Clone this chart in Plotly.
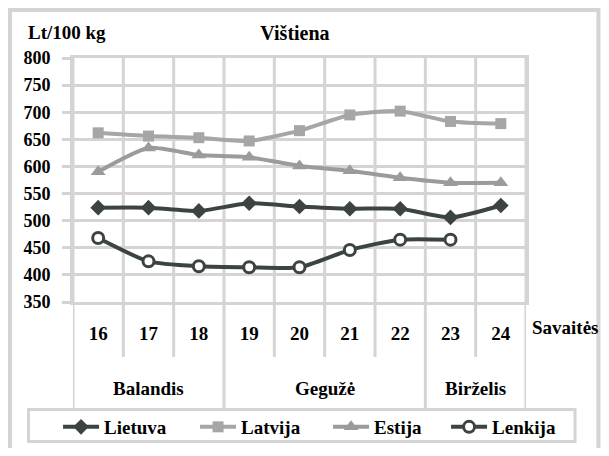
import plotly.graph_objects as go

# Weekly chicken meat prices, Lt/100 kg
weeks = ['16', '17', '18', '19', '20', '21', '22', '23', '24']
months = ['Balandis', 'Gegužė', 'Birželis']
month_weeks = [3, 4, 2]  # how many weeks fall in each month

lietuva = [524, 524, 518, 532, 526, 522, 522, 506, 528]
latvija = [662, 656, 653, 647, 666, 695, 702, 683, 679]
estija = [590, 634, 621, 617, 601, 592, 579, 570, 570]
lenkija = [468, 425, 416, 414, 414, 446, 465, 465, None]

x = list(range(len(weeks)))

grid = '#d4d4d4'
dark = '#3c4443'
serif = 'Liberation Serif'
font_main = dict(family=serif, size=19, color='black', weight='bold')

fig = go.Figure()

fig.add_trace(go.Scatter(
    x=x, y=lietuva, name='Lietuva', mode='lines+markers', legendwidth=86,
    line=dict(color=dark, width=4, shape='spline', smoothing=0.6),
    marker=dict(symbol='diamond', size=12, color=dark)
))
fig.add_trace(go.Scatter(
    x=x, y=latvija, name='Latvija', mode='lines+markers', legendwidth=82,
    line=dict(color='#a6a6a6', width=4, shape='spline', smoothing=0.6),
    marker=dict(symbol='square', size=11, color='#a6a6a6')
))
fig.add_trace(go.Scatter(
    x=x, y=estija, name='Estija', mode='lines+markers', legendwidth=67,
    line=dict(color='#9b9b9b', width=4, shape='spline', smoothing=0.6),
    marker=dict(symbol='triangle-up', size=13, color='#9b9b9b')
))
fig.add_trace(go.Scatter(
    x=x, y=lenkija, name='Lenkija', mode='lines+markers', legendwidth=70,
    line=dict(color=dark, width=4, shape='spline', smoothing=0.6),
    marker=dict(symbol='circle', size=11, color='white', line=dict(color=dark, width=3))
))

# category separators, short between weeks, long at month borders
shapes = []
borders = [0]
for n in month_weeks:
    borders.append(borders[-1] + n)
for k in range(len(weeks) + 1):
    y_end = -0.434 if k in borders else -0.225
    shapes.append(dict(type='line', xref='x', yref='paper', x0=k - 0.5, x1=k - 0.5,
                       y0=1, y1=y_end, line=dict(color=grid, width=3), layer='below'))

# outer frame and legend box
shapes.append(dict(type='rect', xref='paper', yref='paper', x0=-0.1391, x1=1.160,
                   y0=-0.62, y1=1.1967, line=dict(color=grid, width=4)))
shapes.append(dict(type='rect', xref='paper', yref='paper', x0=-0.0982, x1=1.1082,
                   y0=-0.5717, y1=-0.4406, line=dict(color=grid, width=3)))

annotations = [
    dict(text='Lt/100 kg', xref='paper', yref='paper', x=-0.1038, y=1.1025,
         xanchor='left', yanchor='middle', showarrow=False, font=font_main),
    dict(text='Savaitės', xref='paper', yref='paper', x=1.0088, y=-0.1025,
         xanchor='left', yanchor='middle', showarrow=False, font=font_main),
]
start = 0
for m, n in zip(months, month_weeks):
    annotations.append(dict(text=m, xref='x', yref='paper', x=start + (n - 1) / 2, y=-0.3525,
                            xanchor='center', yanchor='middle', showarrow=False, font=font_main))
    start += n

fig.update_layout(
    width=593, height=440,
    margin=dict(l=65, r=75, t=50, b=146, autoexpand=False),
    paper_bgcolor='white', plot_bgcolor='white',
    title=dict(text='Vištiena', x=287 / 593, xanchor='center', y=1 - 25 / 440, yanchor='middle',
               font=dict(family=serif, size=20, color='black', weight='bold')),
    xaxis=dict(range=[-0.5, len(weeks) - 0.5], tickvals=x, ticktext=weeks, showgrid=False,
               zeroline=False, ticks='', ticklabelstandoff=12, tickfont=font_main,
               showline=True, mirror=True, linecolor=grid, linewidth=3),
    yaxis=dict(range=[350, 800], dtick=50, showgrid=True, gridcolor=grid, gridwidth=3,
               zeroline=False, ticks='outside', ticklen=8, tickwidth=3, tickcolor=grid,
               ticklabelstandoff=8,
               tickfont=dict(family=serif, size=18, color='black', weight='bold'),
               showline=True, mirror=True, linecolor=grid, linewidth=3),
    showlegend=True,
    legend=dict(orientation='h', x=-0.033, xanchor='left', y=-0.5123, yanchor='middle',
                bgcolor='rgba(0,0,0,0)', borderwidth=0, font=font_main,
                itemwidth=36, traceorder='normal'),
    shapes=shapes,
    annotations=annotations,
)

fig.write_html('out.html')
